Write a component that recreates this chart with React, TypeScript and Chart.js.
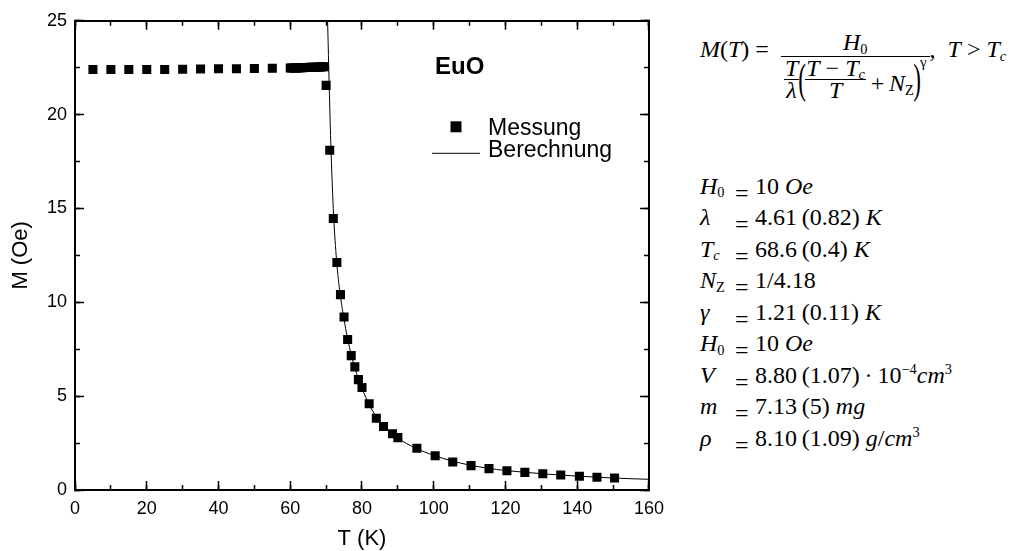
import React, { useEffect, useRef } from "react";
import { Chart, registerables } from "chart.js";

Chart.register(...registerables);

// ---- data ----
const measT = [
  5, 10, 15, 20, 25, 30, 35, 40, 45, 50, 55,
  60, 60.5, 61, 61.5, 62, 62.5, 63, 63.5, 64, 64.5, 65, 65.5, 66, 66.5, 67, 67.5, 68, 68.5, 69, 69.5,
  70, 71, 72, 73, 74, 75, 76, 77, 78, 79, 80, 82, 84, 86, 88.5, 90,
  95.3, 100.4, 105.3, 110.4, 115.4, 120.4, 125.4, 130.4, 135.4, 140.6, 145.5, 150.4,
];
const measM = [
  22.4, 22.4, 22.4, 22.41, 22.41, 22.42, 22.43, 22.44, 22.45, 22.46, 22.47,
  22.48, 22.48, 22.49, 22.49, 22.49, 22.5, 22.5, 22.5, 22.51, 22.51, 22.51, 22.52, 22.52, 22.52, 22.53, 22.53, 22.54, 22.54, 22.55, 22.55,
  21.56, 18.1, 14.47, 12.12, 10.41, 9.22, 8.02, 7.16, 6.56, 5.88, 5.46, 4.6, 3.82, 3.38, 3.0, 2.79,
  2.22, 1.83, 1.49, 1.3, 1.14, 1.03, 0.94, 0.87, 0.8, 0.73, 0.68, 0.64,
];
const calcT = [70.2, 70.4, 70.8, 71.3, 72.0, 72.8, 73.8, 74.9, 76, 77, 78, 79, 80, 82, 84, 86, 88, 90, 95, 100, 105, 110, 115, 120, 125, 130, 135, 140, 145, 150, 155, 160];
const calcM = [26, 25, 22, 18.5, 15.0, 12.5, 10.6, 9.2, 8.05, 7.2, 6.5, 5.9, 5.4, 4.55, 3.9, 3.4, 3.05, 2.76, 2.22, 1.85, 1.55, 1.33, 1.16, 1.04, 0.95, 0.87, 0.8, 0.74, 0.69, 0.64, 0.6, 0.57];

const xRange = [0, 160];
const yRange = [0, 25];
const xMajorStep = 20;
const xMinorStep = 10;
const yMajorStep = 5;
const yMinorStep = 2.5;

const seriesNames = ["Messung", "Berechnung"];
const sampleLabel = "EuO";
const xTitle = "T (K)";
const yTitle = "M (Oe)";

const SANS = '"Liberation Sans", Arial, Helvetica, sans-serif';
const SERIF = '"Liberation Serif", "Times New Roman", serif';

const labelPlugin = {
  id: "euoLegend",
  afterDraw(chart: any) {
    const ctx = chart.ctx;
    const area = chart.chartArea;
    const L = area.left;
    const Tp = area.top;
    ctx.save();
    ctx.fillStyle = "#000";
    ctx.textBaseline = "alphabetic";
    ctx.textAlign = "left";
    ctx.font = `bold 24px ${SANS}`;
    ctx.fillText(sampleLabel, L + 360, Tp + 53);
    const sq = 11;
    ctx.fillRect(L + 381 - sq / 2, Tp + 106 - sq / 2, sq, sq);
    ctx.font = `23px ${SANS}`;
    ctx.fillText(seriesNames[0], L + 413, Tp + 114);
    ctx.fillRect(L + 357, Tp + 132, 48, 1);
    ctx.fillText(seriesNames[1], L + 413, Tp + 136);
    ctx.restore();
  },
};

// helper for tick-only companion axes (inward tick marks on every side)
function tickAxis(position: string, range: number[], step: number, len: number, weight: number, border: boolean) {
  const horizontal = position === "top" || position === "bottom";
  return {
    type: "linear",
    display: true,
    position,
    weight,
    min: range[0],
    max: range[1],
    afterFit: (s: any) => {
      if (horizontal) s.height = 0;
      else s.width = 0;
    },
    ticks: { display: false, stepSize: step },
    grid: { display: true, drawOnChartArea: false, drawTicks: true, tickLength: -len, tickWidth: 1.5, tickColor: "#000" },
    border: { display: border, width: 2, color: "#000" },
  };
}

function Sub({ children }: { children: any }) {
  return (
    <span style={{ fontSize: "0.6em", position: "relative", top: "0.25em", lineHeight: 0 }}>{children}</span>
  );
}

function Frac({ num, den }: { num: any; den: any }) {
  return (
    <span style={{ display: "inline-flex", flexDirection: "column", alignItems: "center" }}>
      <span style={{ lineHeight: "19px", padding: "0 1px", whiteSpace: "nowrap" }}>{num}</span>
      <span style={{ alignSelf: "stretch", height: 1.2, background: "#000", margin: "1px 0" }} />
      <span style={{ lineHeight: "19px", padding: "0 1px", whiteSpace: "nowrap" }}>{den}</span>
    </span>
  );
}

function Paren({ ch }: { ch: string }) {
  return (
    <span style={{ fontSize: 42, lineHeight: "42px", display: "inline-block", transform: "scaleX(0.55)", margin: "0 -4px" }}>{ch}</span>
  );
}

const sup = { fontSize: "0.6em", lineHeight: 0 } as const;

const paramRows: Array<[any, any]> = [
  [<><i>H</i><Sub>0</Sub></>, <>10 <i>Oe</i></>],
  [<i>λ</i>, <>4.61{"\u2009"}(0.82) <i>K</i></>],
  [<><i>T</i><Sub><i>c</i></Sub></>, <>68.6{"\u2009"}(0.4) <i>K</i></>],
  [<><i>N</i><Sub>Z</Sub></>, <>1/4.18</>],
  [<i>γ</i>, <>1.21{"\u2009"}(0.11) <i>K</i></>],
  [<><i>H</i><Sub>0</Sub></>, <>10 <i>Oe</i></>],
  [<i>V</i>, <>8.80{"\u2009"}(1.07){"\u2009"}·{"\u2009"}10<sup style={sup}>−4</sup><i>cm</i><sup style={sup}>3</sup></>],
  [<i>m</i>, <>7.13{"\u2009"}(5) <i>mg</i></>],
  [<i>ρ</i>, <>8.10{"\u2009"}(1.09) <i>g</i>/<i>cm</i><sup style={sup}>3</sup></>],
];

export default function App() {
  const canvasRef = useRef<HTMLCanvasElement | null>(null);

  useEffect(() => {
    const canvas = canvasRef.current;
    if (!canvas) return;
    const chart = new Chart(canvas, {
      type: "scatter",
      data: {
        datasets: [
          {
            label: seriesNames[0],
            data: measT.map((t, i) => ({ x: t, y: measM[i] })),
            showLine: false,
            pointStyle: "rect",
            pointRadius: 6.4,
            pointBackgroundColor: "#000",
            pointBorderColor: "#000",
            pointBorderWidth: 0,
          },
          {
            label: seriesNames[1],
            data: calcT.map((t, i) => ({ x: t, y: calcM[i] })),
            showLine: true,
            pointRadius: 0,
            borderColor: "#000",
            borderWidth: 1,
            cubicInterpolationMode: "monotone",
          },
        ],
      },
      options: {
        responsive: false,
        animation: false,
        devicePixelRatio: 1,
        layout: { padding: { top: 21, right: 29, left: 0, bottom: 0 } },
        plugins: { legend: { display: false }, tooltip: { enabled: false } },
        scales: {
          x: {
            type: "linear",
            position: "bottom",
            weight: 0,
            min: xRange[0],
            max: xRange[1],
            afterFit: (s: any) => {
              s.height = 61;
            },
            ticks: { stepSize: xMajorStep, color: "#000", padding: 17, font: { family: SANS, size: 18 }, autoSkip: false, maxRotation: 0 },
            grid: { display: true, drawOnChartArea: false, drawTicks: true, tickLength: -9, tickWidth: 1.5, tickColor: "#000" },
            border: { display: true, width: 2, color: "#000" },
            title: { display: true, text: xTitle, color: "#000", font: { family: SANS, size: 22, lineHeight: 1 }, padding: { top: 0, bottom: 1 } },
          },
          y: {
            type: "linear",
            position: "left",
            weight: 0,
            min: yRange[0],
            max: yRange[1],
            afterFit: (s: any) => {
              s.width = 75;
            },
            ticks: { stepSize: yMajorStep, color: "#000", padding: 17, font: { family: SANS, size: 18 } },
            grid: { display: true, drawOnChartArea: false, drawTicks: true, tickLength: -9, tickWidth: 1.5, tickColor: "#000" },
            border: { display: true, width: 2, color: "#000" },
            title: { display: true, text: yTitle, color: "#000", font: { family: SANS, size: 22, lineHeight: 1 }, padding: { top: 10, bottom: 0 } },
          },
          xMinorBottom: { ...tickAxis("bottom", xRange, xMinorStep, 5, -1, false), axis: "x" },
          xTop: { ...tickAxis("top", xRange, xMajorStep, 9, 0, true), axis: "x" },
          xMinorTop: { ...tickAxis("top", xRange, xMinorStep, 5, -1, false), axis: "x" },
          yMinorLeft: { ...tickAxis("left", yRange, yMinorStep, 5, -1, false), axis: "y" },
          yRight: { ...tickAxis("right", yRange, yMajorStep, 9, 0, true), axis: "y" },
          yMinorRight: { ...tickAxis("right", yRange, yMinorStep, 5, -1, false), axis: "y" },
        },
      },
      plugins: [labelPlugin],
    } as any);
    return () => chart.destroy();
  }, []);

  const rowBase0 = 194;
  const rowGap = 31.5;
  const size = 24;

  return (
    <div style={{ position: "absolute", left: 0, top: 0, width: 1035, height: 551, background: "#fff", overflow: "hidden" }}>
      <canvas ref={canvasRef} width={681} height={558} style={{ position: "absolute", left: 0, top: -7, width: 681, height: 558 }} />

      {/* formula */}
      <div style={{ position: "absolute", left: 700, top: 30, fontFamily: SERIF, fontSize: 24, color: "#000", display: "flex", alignItems: "flex-start", whiteSpace: "nowrap" }}>
        <span style={{ lineHeight: "24px", marginTop: 7 }}>
          <i>M</i>(<i>T</i>) ={"\u2002"}
        </span>
        <span style={{ display: "inline-flex", flexDirection: "column", alignItems: "center" }}>
          <span style={{ lineHeight: "24px", marginBottom: 2 }}>
            <i>H</i><Sub>0</Sub>
          </span>
          <span style={{ alignSelf: "stretch", height: 1.3, background: "#000" }} />
          <span style={{ display: "inline-flex", alignItems: "center", marginTop: 1, padding: "0 3px" }}>
            <Frac num={<i>T</i>} den={<i>λ</i>} />
            <Paren ch="(" />
            <Frac num={<><i>T</i> − <i>T</i><Sub><i>c</i></Sub></>} den={<i>T</i>} />
            <span style={{ lineHeight: "24px", marginTop: 8 }}>{"\u2009"}+{"\u2009"}<i>N</i><Sub>Z</Sub></span>
            <Paren ch=")" />
            <span style={{ alignSelf: "flex-start", fontSize: 15, lineHeight: "15px", marginTop: -3 }}>γ</span>
          </span>
        </span>
        <span style={{ lineHeight: "24px", marginTop: 7 }}>
          ,{"\u2002"}<i>T</i> &gt; <i>T</i><Sub><i>c</i></Sub>
        </span>
      </div>

      {/* parameters */}
      {paramRows.map(([sym, val], i) => {
        const base = rowBase0 + i * rowGap;
        const top = base - 0.8375 * size;
        return (
          <div key={i} style={{ position: "absolute", left: 0, top, fontFamily: SERIF, fontSize: size, lineHeight: `${size}px`, color: "#000", whiteSpace: "nowrap" }}>
            <span style={{ position: "absolute", left: 700 }}>{sym}</span>
            <span style={{ position: "absolute", left: 735, top: 7 }}>=</span>
            <span style={{ position: "absolute", left: 755 }}>{val}</span>
          </div>
        );
      })}
    </div>
  );
}
